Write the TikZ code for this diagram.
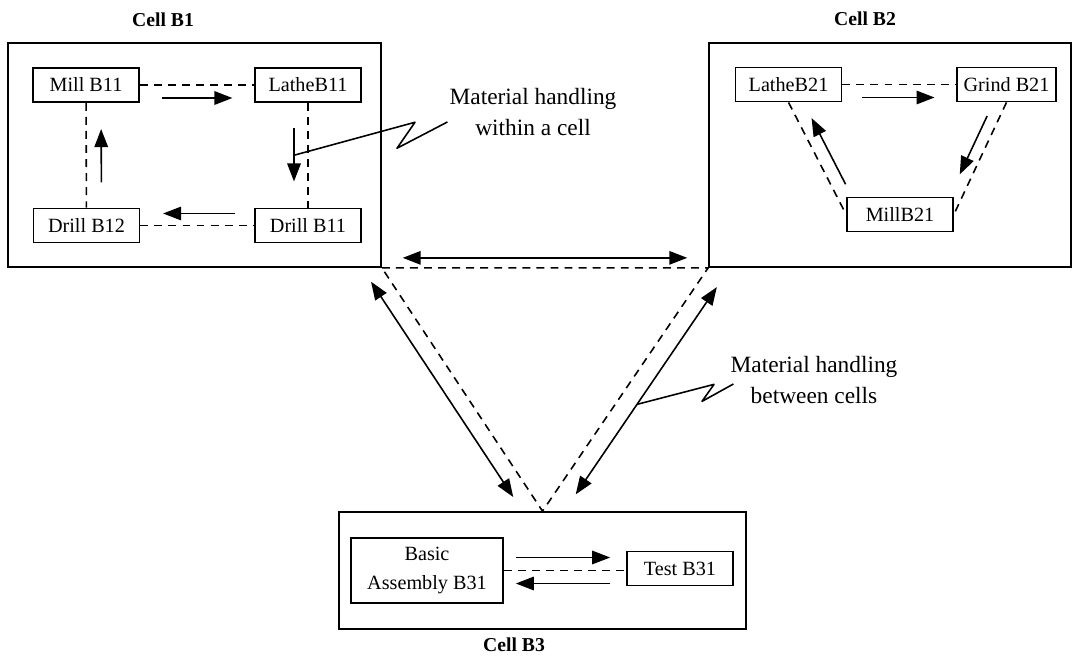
\documentclass[tikz,border=0pt]{standalone}
\usepackage{fontspec}
\setmainfont{Liberation Serif}
\usetikzlibrary{arrows.meta,calc}

\begin{document}
\begin{tikzpicture}[
    x=0.02cm, y=-0.02cm,
    >={Triangle[length=0.36cm,width=0.27cm]},
    cell/.style={draw, line width=1pt, inner sep=0pt},
    machine/.style={
      draw, line width=1pt, align=center, inner sep=2pt,
      minimum width=2.12cm, minimum height=0.68cm,
      font=\fontsize{11.5}{16.5}\selectfont
    },
    celllabel/.style={font=\fontsize{11.2}{13}\selectfont\bfseries},
    note/.style={align=center, font=\fontsize{13.3}{17.6}\selectfont},
    link/.style={line width=0.9pt, dash pattern=on 4.5pt off 3.5pt},
    flow/.style={->, line width=0.9pt},
    pointer/.style={line width=0.9pt, line join=round},
  ]
  \useasboundingbox (0,0) rectangle (1073,656);

  % cells
  \node[cell, minimum width=7.46cm, minimum height=4.48cm] (cellB1) at (194.5,155) {};
  \node[cell, minimum width=7.24cm, minimum height=4.48cm] (cellB2) at (890,155) {};
  \node[cell, minimum width=8.14cm, minimum height=2.34cm] (cellB3) at (542.5,570.5) {};
  \node[celllabel] (labB1) at (163,20) {Cell B1};
  \node[celllabel] (labB2) at (865,19) {Cell B2};
  \node[celllabel] (labB3) at (514,645) {Cell B3};

  % machines
  \node[machine] (millB11) at (86,85) {Mill B11};
  \node[machine] (latheB11) at (308,85) {LatheB11};
  \node[machine] (drillB12) at (86.5,225.5) {Drill B12};
  \node[machine] (drillB11) at (308,225.5) {Drill B11};
  \node[machine] (latheB21) at (788.5,84.5) {LatheB21};
  \node[machine, minimum width=1.98cm] (grindB21) at (1006.5,84.5) {Grind B21};
  \node[machine] (millB21) at (900,214.5) {MillB21};
  \node[machine, minimum width=3.04cm, minimum height=1.3cm] (assyB31) at (427,570.5) {Basic\\Assembly B31};
  \node[machine] (testB31) at (680,568.5) {Test B31};

  \node[note] (noteWithin) at (533,112) {Material handling\\within a cell};
  \node[note] (noteBetween) at (814,380) {Material handling\\between cells};

  % dashed links
  \draw[link] (millB11) -- (latheB11);
  \draw[link] (millB11) -- (drillB12);
  \draw[link] (latheB11) -- (drillB11);
  \draw[link] (drillB12) -- (drillB11);
  \draw[link] (latheB21) -- (grindB21);
  \draw[link] (latheB21.south) -- (millB21.west);
  \draw[link] (grindB21.south) -- (millB21.east);
  \draw[link] (assyB31.east) -- (assyB31.east -| testB31.west);
  \draw[link] (cellB1.south east) -- (cellB2.south west) -- (cellB3.north) -- cycle;

  % flow within cell B1
  \draw[flow] ($(millB11.east)!0.19!(latheB11.west)+(0,13)$) -- ($(millB11.east)!0.81!(latheB11.west)+(0,13)$);
  \draw[flow] ($(latheB11.south)!0.24!(drillB11.north)+(-14,0)$) -- ($(latheB11.south)!0.75!(drillB11.north)+(-14,0)$);
  \draw[flow] ($(drillB11.west)!0.17!(drillB12.east)+(0,-12)$) -- ($(drillB11.west)!0.80!(drillB12.east)+(0,-12)$);
  \draw[flow] ($(drillB12.north)!0.24!(millB11.south)+(15,0)$) -- ($(drillB12.north)!0.75!(millB11.south)+(15,0)$);

  % flow within cell B2
  \draw[flow] ($(latheB21.east)!0.17!(grindB21.west)+(0,13)$) -- ($(latheB21.east)!0.81!(grindB21.west)+(0,13)$);
  \draw[flow] ($(grindB21.south)!0.14!(millB21.east)+(-12,-2)$) -- ($(grindB21.south)!0.66!(millB21.east)+(-12,-2)$);
  \draw[flow] ($(millB21.west)!0.27!(latheB21.south)+(15,0)$) -- ($(millB21.west)!0.86!(latheB21.south)+(15,0)$);

  % flow within cell B3
  \draw[flow] ($(assyB31.east)+(12,-13)$) -- ($(assyB31.east -| testB31.west)+(-16,-13)$);
  \draw[flow] ($(assyB31.east -| testB31.west)+(-16,13)$) -- ($(assyB31.east)+(12,13)$);

  % flow between cells
  \draw[flow, <->] ($(cellB1.south east)!0.064!(cellB2.south west)+(0,-10)$) -- ($(cellB1.south east)!0.936!(cellB2.south west)+(0,-10)$);
  \draw[flow, <->] ($(cellB1.south east)!0.02!(cellB3.north)+(-14,9)$) -- ($(cellB1.south east)!0.905!(cellB3.north)+(-14,9)$);
  \draw[flow, <->] ($(cellB2.south west)!0.038!(cellB3.north)+(15,10)$) -- ($(cellB2.south west)!0.89!(cellB3.north)+(15,10)$);

  % pointers to the notes
  \coordinate (pB1) at ($(latheB11.south)!0.5!(drillB11.north)+(-14,0)$);
  \coordinate (pB2) at ($(cellB2.south west)!0.52!(cellB3.north)+(15,10)$);
  \draw[pointer] (pB1) -- ++(121,-33) -- ++(-18,26) -- ([shift={(4,10)}]noteWithin.west);
  \draw[pointer] (pB2) -- ++(77,-20) -- ++(-12,17) -- ([shift={(9,4)}]noteBetween.west);
\end{tikzpicture}
\end{document}
